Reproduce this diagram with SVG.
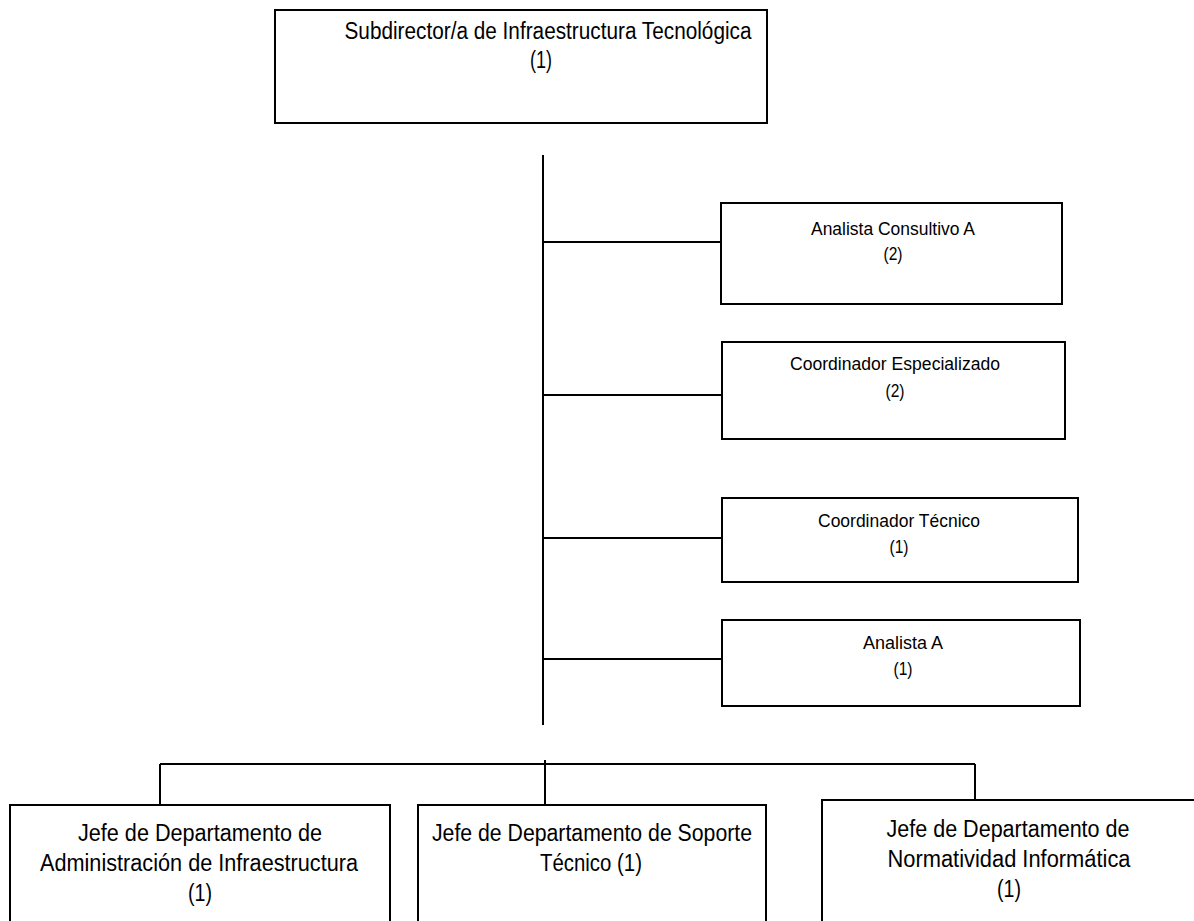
<svg xmlns="http://www.w3.org/2000/svg" width="1194" height="921" viewBox="0 0 1194 921">
<style>
.box{fill:#fff;stroke:#000;stroke-width:2}
.ln{stroke:#000;stroke-width:2;fill:none}
.t{font-family:"Liberation Sans",Arial,sans-serif;fill:#000;text-anchor:middle}
.big{font-size:23px}
.sm{font-size:17.5px}
</style>
<rect width="1194" height="921" fill="#fff"/>
<g id="connectors">
<line class="ln" x1="543" y1="155" x2="543" y2="725"/>
<line class="ln" x1="543" y1="242" x2="721" y2="242"/>
<line class="ln" x1="543" y1="395" x2="722" y2="395"/>
<line class="ln" x1="543" y1="538" x2="722" y2="538"/>
<line class="ln" x1="543" y1="659" x2="722" y2="659"/>
<line class="ln" x1="160" y1="764" x2="975" y2="764"/>
<line class="ln" x1="160" y1="764" x2="160" y2="805"/>
<line class="ln" x1="545" y1="760" x2="545" y2="805"/>
<line class="ln" x1="975" y1="764" x2="975" y2="800"/>
</g>
<g id="subdirector">
<rect class="box" x="275" y="10" width="492" height="113"/>
<text class="t big" x="548" y="39" textLength="407" lengthAdjust="spacingAndGlyphs">Subdirector/a de Infraestructura Tecnológica</text>
<text class="t big" x="541" y="68" textLength="22" lengthAdjust="spacingAndGlyphs">(1)</text>
</g>
<g id="analista-consultivo">
<rect class="box" x="721" y="203" width="341" height="101"/>
<text class="t sm" x="893" y="235" textLength="164" lengthAdjust="spacingAndGlyphs">Analista Consultivo A</text>
<text class="t sm" x="893" y="260" textLength="19" lengthAdjust="spacingAndGlyphs">(2)</text>
</g>
<g id="coordinador-especializado">
<rect class="box" x="722" y="342" width="343" height="97"/>
<text class="t sm" x="895" y="370" textLength="210" lengthAdjust="spacingAndGlyphs">Coordinador Especializado</text>
<text class="t sm" x="895" y="397" textLength="19" lengthAdjust="spacingAndGlyphs">(2)</text>
</g>
<g id="coordinador-tecnico">
<rect class="box" x="722" y="498" width="356" height="84"/>
<text class="t sm" x="899" y="527" textLength="162" lengthAdjust="spacingAndGlyphs">Coordinador Técnico</text>
<text class="t sm" x="899" y="553" textLength="19" lengthAdjust="spacingAndGlyphs">(1)</text>
</g>
<g id="analista-a">
<rect class="box" x="722" y="620" width="358" height="86"/>
<text class="t sm" x="903" y="649" textLength="80" lengthAdjust="spacingAndGlyphs">Analista A</text>
<text class="t sm" x="903" y="675" textLength="19" lengthAdjust="spacingAndGlyphs">(1)</text>
</g>
<g id="jefe-administracion">
<rect class="box" x="10" y="805" width="380" height="130"/>
<text class="t big" x="200" y="841" textLength="244" lengthAdjust="spacingAndGlyphs">Jefe de Departamento de</text>
<text class="t big" x="199" y="871" textLength="318" lengthAdjust="spacingAndGlyphs">Administración de Infraestructura</text>
<text class="t big" x="200" y="901" textLength="24" lengthAdjust="spacingAndGlyphs">(1)</text>
</g>
<g id="jefe-soporte">
<rect class="box" x="418" y="805" width="348" height="130"/>
<text class="t big" x="592" y="841" textLength="320" lengthAdjust="spacingAndGlyphs">Jefe de Departamento de Soporte</text>
<text class="t big" x="591" y="871" textLength="102" lengthAdjust="spacingAndGlyphs">Técnico (1)</text>
</g>
<g id="jefe-normatividad">
<rect class="box" x="822" y="800" width="380" height="135"/>
<text class="t big" x="1008" y="837" textLength="243" lengthAdjust="spacingAndGlyphs">Jefe de Departamento de</text>
<text class="t big" x="1009" y="867" textLength="243" lengthAdjust="spacingAndGlyphs">Normatividad Informática</text>
<text class="t big" x="1009" y="897" textLength="24" lengthAdjust="spacingAndGlyphs">(1)</text>
</g>
</svg>
